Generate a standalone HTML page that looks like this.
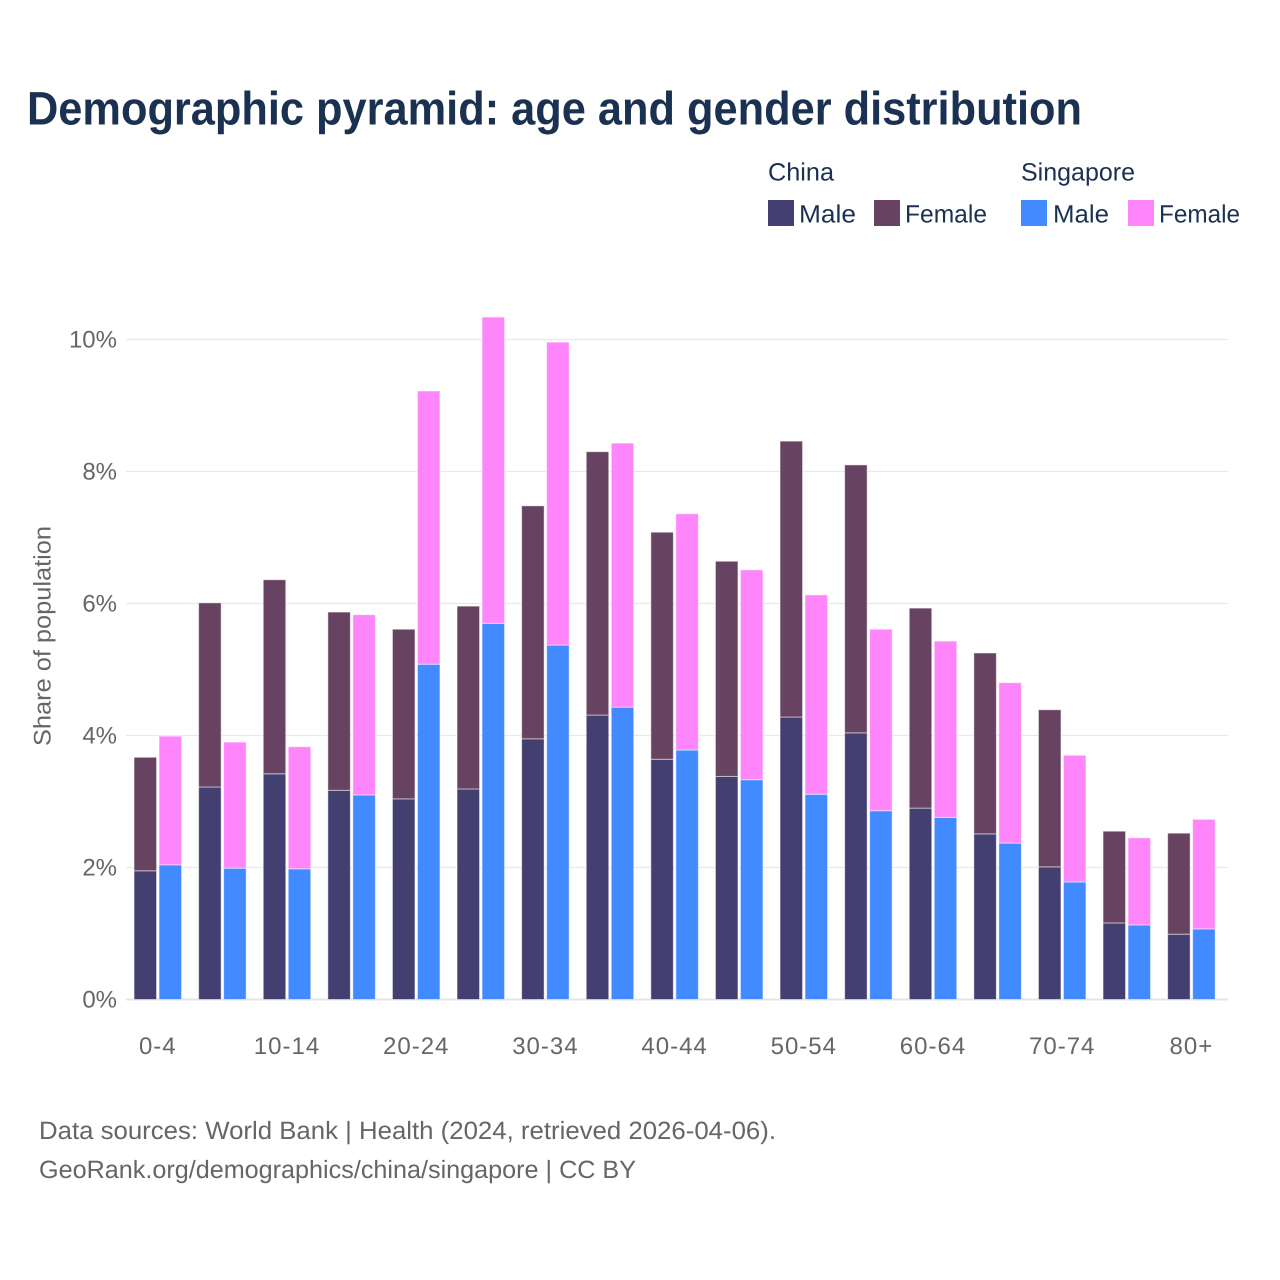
<!DOCTYPE html>
<html lang="en">
<head>
<meta charset="utf-8">
<title>Demographic pyramid: age and gender distribution</title>
<style>
  html, body { margin: 0; padding: 0; background: #fff; }
  svg { display: block; font-family: "Liberation Sans", sans-serif; }
  text { text-rendering: geometricPrecision; }
</style>
</head>
<body>
<svg id="chart" xmlns="http://www.w3.org/2000/svg" width="1280" height="1280" viewBox="0 0 1280 1280">
  <rect x="0" y="0" width="1280" height="1280" fill="#ffffff"/>
  <text x="27" y="124.5" font-size="47" font-weight="700" fill="#1a3152" textLength="1055" lengthAdjust="spacingAndGlyphs">Demographic pyramid: age and gender distribution</text>

  <g font-size="25" fill="#1a3152">
    <text x="768" y="180.5" textLength="66" lengthAdjust="spacingAndGlyphs">China</text>
    <text x="1021" y="180.5" textLength="114" lengthAdjust="spacingAndGlyphs">Singapore</text>
    <rect x="768" y="200" width="26" height="26" fill="#433f70"/>
    <text x="799" y="222.5" textLength="57" lengthAdjust="spacingAndGlyphs">Male</text>
    <rect x="874" y="200" width="26" height="26" fill="#674261"/>
    <text x="905" y="222.5" textLength="82" lengthAdjust="spacingAndGlyphs">Female</text>
    <rect x="1021" y="200" width="26" height="26" fill="#418aff"/>
    <text x="1053" y="222.5" textLength="56" lengthAdjust="spacingAndGlyphs">Male</text>
    <rect x="1128" y="200" width="26" height="26" fill="#ff85fa"/>
    <text x="1159" y="222.5" textLength="81" lengthAdjust="spacingAndGlyphs">Female</text>
  </g>

  <text transform="translate(50.5,636) rotate(-90)" text-anchor="middle" font-size="24" fill="#666666" textLength="220" lengthAdjust="spacingAndGlyphs">Share of population</text>

  <g id="grid"></g>
  <g id="y-axis"></g>
  <g id="bars"></g>
  <g id="x-axis"></g>

  <g font-size="25" fill="#666666">
    <text x="39" y="1139" textLength="737" lengthAdjust="spacingAndGlyphs">Data sources: World Bank | Health (2024, retrieved 2026-04-06).</text>
    <text x="39" y="1178" textLength="597" lengthAdjust="spacingAndGlyphs">GeoRank.org/demographics/china/singapore | CC BY</text>
  </g>
</svg>
<script>
const categories = ['0-4','5-9','10-14','15-19','20-24','25-29','30-34','35-39','40-44','45-49','50-54','55-59','60-64','65-69','70-74','75-79','80+'];
const chinaMale = [1.95,3.22,3.42,3.17,3.04,3.19,3.95,4.31,3.64,3.38,4.28,4.04,2.90,2.51,2.01,1.16,0.99];
const chinaFemale = [1.72,2.79,2.94,2.70,2.57,2.77,3.53,3.99,3.44,3.26,4.18,4.06,3.03,2.74,2.38,1.39,1.53];
const singaporeMale = [2.04,1.99,1.98,3.10,5.08,5.70,5.37,4.43,3.78,3.33,3.11,2.86,2.76,2.37,1.78,1.13,1.07];
const singaporeFemale = [1.95,1.91,1.85,2.73,4.14,4.64,4.59,4.00,3.58,3.18,3.02,2.75,2.67,2.43,1.92,1.32,1.66];
const yTicks = [0,2,4,6,8,10];
const xTickLabels = ['0-4','10-14','20-24','30-34','40-44','50-54','60-64','70-74','80+'];

const NS = 'http://www.w3.org/2000/svg';
const xScale = function (i) { return 157.8 + i * 64.6; };
const yScale = function (v) { return 999.5 - v * 66; };
const barWidth = 22.5;
const barOffset = 12.5;

function make(tag, parent, props) {
  const el = document.createElementNS(NS, tag);
  Object.keys(props).forEach(function (k) { el.setAttribute(k, props[k]); });
  parent.appendChild(el);
  return el;
}

const grid = document.getElementById('grid');
const yAxis = document.getElementById('y-axis');
yTicks.forEach(function (t) {
  const line = make('line', grid, { x1: 126, x2: 1228, y1: yScale(t), y2: yScale(t), stroke: t === 0 ? '#e4e4e4' : '#e9e9e9', 'stroke-width': t === 0 ? 2 : 1.3 });
  
  
  const label = make('text', yAxis, { x: 117, y: yScale(t) + 8, 'text-anchor': 'end', 'font-size': 24, fill: '#666666' });
  label.textContent = t + '%';
  
  
});

function drawSegment(parent, name, cx, base, value, color) {
  const rect = make('rect', parent, {
    x: cx - barWidth / 2,
    y: yScale(base + value),
    width: barWidth,
    height: yScale(base) - yScale(base + value),
    fill: color,
    stroke: '#ffffff',
    'stroke-opacity': 0.5,
    'stroke-width': 1
  });
  
  
}

const bars = document.getElementById('bars');
categories.forEach(function (cat, i) {
  const cc = xScale(i) - barOffset;
  const sc = xScale(i) + barOffset;
  drawSegment(bars, 'bar-china-male-' + cat, cc, 0, chinaMale[i], '#433f70');
  drawSegment(bars, 'bar-china-female-' + cat, cc, chinaMale[i], chinaFemale[i], '#674261');
  drawSegment(bars, 'bar-singapore-male-' + cat, sc, 0, singaporeMale[i], '#418aff');
  drawSegment(bars, 'bar-singapore-female-' + cat, sc, singaporeMale[i], singaporeFemale[i], '#ff85fa');
});

const xAxis = document.getElementById('x-axis');
xTickLabels.forEach(function (lab) {
  const i = categories.indexOf(lab);
  const text = make('text', xAxis, { x: xScale(i), y: 1054, 'text-anchor': 'middle', 'font-size': 24, 'letter-spacing': 1, fill: '#666666' });
  text.textContent = lab;
  
  
});
</script>
</body>
</html>
